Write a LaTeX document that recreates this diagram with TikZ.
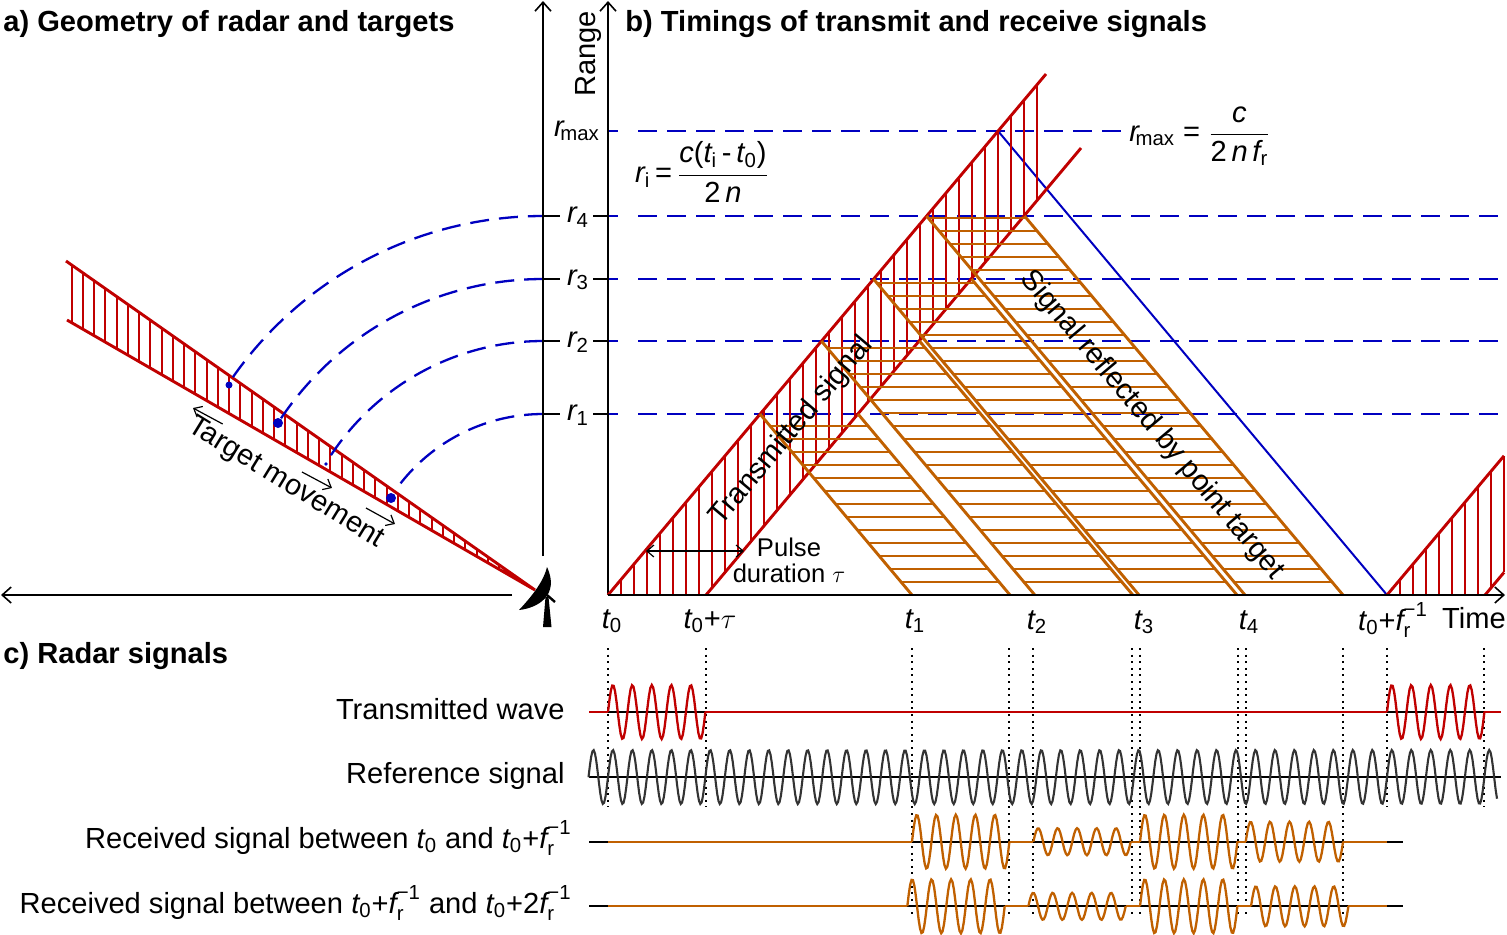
\documentclass[tikz,border=0pt]{standalone}
\usepackage{amsmath}
\usepackage{fontspec}
\setmainfont{Liberation Sans}
\usetikzlibrary{arrows.meta}

\definecolor{radarred}{HTML}{C00000}
\definecolor{echoorange}{HTML}{C06000}
\definecolor{rangeblue}{HTML}{0000C0}
\definecolor{refgray}{HTML}{333333}

\newcommand{\vi}[1]{\text{\itshape #1}}
\newcommand{\vr}[1]{\text{#1}}
\newcommand{\tzero}{\vi{t}_{\vr{0}}}
\newcommand{\frinv}{\vi{f}_{\vr{r}}^{\vr{−1}}}

\newcommand{\pulsewave}[4]{\draw[#4,line width=1.15pt] plot[samples=70,domain=#1:#1+97.4] (\x,{#2-#3*sin(18.4852*(\x-#1))});}

\tikzset{
    lab/.style={inner sep=0pt,font=\fontsize{14.55}{13}\selectfont},
    ttl/.style={inner sep=0pt,anchor=west,font=\fontsize{14.55}{17}\selectfont\bfseries},
    axisline/.style={black,line width=0.8pt,-{Straight Barb[length=4.5pt,width=8pt]}},
    rangedash/.style={rangeblue,line width=1.15pt,dash pattern=on 9.5pt off 5pt},
    timedot/.style={black,line width=1pt,dash pattern=on 1pt off 2.3pt},
    txband/.style={radarred,line width=1.45pt},
    txhatch/.style={radarred,line width=1.05pt},
    echoband/.style={echoorange,line width=1.45pt},
    echohatch/.style={echoorange,line width=1.15pt}
}

\begin{document}
\begin{tikzpicture}[x=0.5pt,y=-0.5pt] %coordinates are pixels of the figure
    \useasboundingbox (0,0) rectangle (1507,934);

    \coordinate (radar) at (543,595);
    \coordinate (O) at (608,595);

    \node[ttl] (titleA) at (3,24) {a) Geometry of radar and targets};
    \node[ttl] (titleB) at (625,24) {b) Timings of transmit and receive signals};
    \node[ttl] (titleC) at (3,656) {c) Radar signals};

    % range lines
    \foreach \ypos in {216,279,341,414}{
        \draw[rangedash] (638,\ypos) -- (1505,\ypos);
        \draw[rangeblue,line width=1.15pt] (608,\ypos) -- (618,\ypos);
        \draw[black,line width=0.8pt] (543,\ypos) -- (560,\ypos);
        \draw[black,line width=0.8pt] (593,\ypos) -- (608,\ypos);
    }
    \draw[rangedash] (638,131) -- (1122,131);
    \draw[rangeblue,line width=1.15pt] (608,131) -- (618,131);
    \draw[rangeblue,line width=1pt] (998,131) -- (1387,595);

    % a) target sector
    \coordinate (sectorA) at (66,261);
    \coordinate (sectorB) at (67,320);
    \coordinate (sectorC) at (535,590);
    \foreach \k in {0,...,39}{
        \pgfmathsetmacro{\xpos}{71.6+11.25*\k}
        \pgfmathsetmacro{\ytop}{261+0.7015*(\xpos-66)}
        \pgfmathsetmacro{\ybot}{320+0.577*(\xpos-67)}
        \draw[txhatch] (\xpos,\ytop) -- (\xpos,\ybot);
    }
    \draw[txband] (sectorA) -- (sectorC) -- (sectorB);

    % arcs from targets to range axis
    \draw[rangedash] (radar) ++(215.1:379) arc[start angle=215.1,end angle=270,radius=379];
    \draw[rangedash] (radar) ++(214:316) arc[start angle=214,end angle=270,radius=316];
    \draw[rangedash] (radar) ++(213.4:254) arc[start angle=213.4,end angle=270,radius=254];
    \draw[rangedash] (radar) ++(218.1:181) arc[start angle=218.1,end angle=270,radius=181];

    \fill[rangeblue] (229,385) circle (3.5);
    \fill[rangeblue] (278,423) circle (5);
    \fill[rangeblue] (326,464) circle (1.8);
    \fill[rangeblue] (391,498) circle (5);

    \node[lab,rotate=-31.5] (targetmove) at (285.5,483) {Target movement};
    \draw[black,line width=0.6pt,-{Straight Barb[length=3.5pt,width=6pt]}] (222.7,424) -- (193,408);
    \draw[black,line width=0.6pt,-{Straight Barb[length=3.5pt,width=6pt]}] (302,472) -- (332,488);
    \draw[black,line width=0.6pt,-{Straight Barb[length=3.5pt,width=6pt]}] (366,508) -- (395,524);

    % dish
    \fill[black] (547,567) .. controls (544,580) and (534,594) .. (519,610)
        .. controls (538,608) and (560,595) .. cycle;
    \fill[black] (545.5,597) -- (543,627) -- (551.5,627) -- (548.5,597) -- cycle;
    \draw[black,line width=1.2pt] (547,595) -- (555,602);

    % axes
    \draw[axisline] (512,595) -- (1,595);
    \draw[axisline] (543,556) -- (543,1);
    \draw[axisline] (O) -- (608,1);

    % transmitted signal
    \foreach \k in {1,...,33}{
        \pgfmathsetmacro{\xpos}{608+13*\k}
        \pgfmathsetmacro{\ytop}{595-1.19*(\xpos-608)}
        \pgfmathsetmacro{\ybot}{min(595,595-1.19*(\xpos-706))}
        \draw[txhatch] (\xpos,\ytop) -- (\xpos,\ybot);
    }
    \draw[txband] (O) -- (1046,74);
    \draw[txband] (706,595) -- (1081,148);
    \foreach \k in {1,...,9}{
        \pgfmathsetmacro{\xpos}{1387+13*\k}
        \pgfmathsetmacro{\ytop}{595-1.19*(\xpos-1387)}
        \pgfmathsetmacro{\ybot}{min(595,595-1.19*(\xpos-1485))}
        \draw[txhatch] (\xpos,\ytop) -- (\xpos,\ybot);
    }
    \draw[txband] (1387,595) -- (1504,455.8);
    \draw[txband] (1485,595) -- (1504,572.4);

    % reflected signals
    \foreach \rtop/\xtop/\xend in {414/760/912,341/821.4/1034.8,279/873.5/1139,216/926.5/1245}{
        \draw[echoband] (\xtop,\rtop) -- (\xend,595);
        \draw[echoband] ({\xtop+98},\rtop) -- ({\xend+98},595);
        \foreach \k in {1,...,29}{
            \pgfmathsetmacro{\ypos}{595-13*\k}
            \ifdim\ypos pt>\rtop pt
                \pgfmathsetmacro{\xpos}{\xtop+(\ypos-\rtop)/1.19}
                \draw[echohatch] (\xpos,\ypos) -- ({\xpos+98},\ypos);
            \fi
        }
    }
    \draw[black,line width=1pt] (O) -- (1400,595);
    \draw[axisline] (1400,595) -- (1505,595);

    \draw[black,line width=0.6pt,{Straight Barb[length=3.5pt,width=6pt]}-{Straight Barb[length=3.5pt,width=6pt]}] (646,551) -- (744,551);
    \node[lab,align=center,font=\fontsize{12.8}{13}\selectfont] (pulse) at (789,560) {Pulse\\duration $\tau$};
    \node[lab,rotate=50] (txlabel) at (792,431) {Transmitted signal};
    \node[lab,rotate=-50] (rxlabel) at (1152,425) {Signal reflected by point target};
    \node[lab,rotate=90] (rangelabel) at (588,54) {Range};

    \node[lab] (rmax) at (577,131) {$\vi{r}_{\!\vr{max}}$};
    \node[lab] (r4) at (578,217) {$\vi{r}_{\vr{4}}$};
    \node[lab] (r3) at (578,280) {$\vi{r}_{\vr{3}}$};
    \node[lab] (r2) at (578,342) {$\vi{r}_{\vr{2}}$};
    \node[lab] (r1) at (578,415) {$\vi{r}_{\vr{1}}$};

    \node[lab] (eqri) at (702,172) {$\vi{r}_{\vr{i}}\,\vr{=}\,\displaystyle\frac{\vi{c}\vr{(}\vi{t}_{\vr{i}}\,\vr{-}\,\tzero\vr{)}}{\vr{2}\,\vi{n}}$};
    \node[lab] (eqrmax) at (1200,136) {$\vi{r}_{\!\vr{max}}\;\vr{=}\;\displaystyle\frac{\vi{c}}{\vr{2}\,\vi{n}\,\vi{f}_{\vr{r}}}$};

    \node[lab] (t0) at (612,621) {$\tzero$};
    \node[lab] (t0tau) at (710,621) {$\tzero\vr{+}\tau$};
    \node[lab] (t1) at (915,621) {$\vi{t}_{\vr{1}}$};
    \node[lab] (t2) at (1037,622) {$\vi{t}_{\vr{2}}$};
    \node[lab] (t3) at (1144,622) {$\vi{t}_{\vr{3}}$};
    \node[lab] (t4) at (1249,622) {$\vi{t}_{\vr{4}}$};
    \node[lab] (t0fr) at (1393,620) {$\tzero\vr{+}\frinv$};
    \node[lab] (timelabel) at (1474,618) {Time};

    % c) signals
    \foreach \xpos/\yend in {608/807,706/807,912/918,1009/918,1033/918,1131.5/918,1140/918,1238/918,1246/918,1343/918,1387/807,1484/807}{
        \draw[timedot] (\xpos,648) -- (\xpos,\yend);
    }

    \node[lab,anchor=east] (rowA) at (565,709) {Transmitted wave};
    \node[lab,anchor=east] (rowB) at (565,776) {Reference signal};
    \node[lab,anchor=east] (rowC) at (572,838) {Received signal between $\tzero$ and $\tzero\vr{+}\frinv$};
    \node[lab,anchor=east] (rowD) at (572,903) {Received signal between $\tzero\vr{+}\frinv$ and $\tzero\vr{+2}\frinv$};

    \draw[black,line width=1pt] (589,712) -- (1501,712);
    \draw[radarred,line width=1.3pt] (589,712) -- (608,712);
    \draw[radarred,line width=1.3pt] (705.4,712) -- (1387,712);
    \draw[radarred,line width=1.3pt] (1484.4,712) -- (1501,712);
    \pulsewave{608}{712}{27}{radarred}
    \pulsewave{1387}{712}{27}{radarred}

    \draw[black,line width=1pt] (589,777) -- (1501,777);
    \draw[refgray,line width=1.05pt] plot[samples=700,domain=588.5:1497] (\x,{777-27*sin(18.4852*(\x-1016.975))});

    \draw[black,line width=1pt] (589,841.7) -- (1403,841.7);
    \foreach \xa/\xb in {608/912,1009.4/1033.3,1130.7/1140,1237.4/1245.7,1343.1/1387}{
        \draw[echoorange,line width=1.1pt] (\xa,841.7) -- (\xb,841.7);
    }
    \pulsewave{912}{841.7}{27}{echoorange}
    \pulsewave{1033.3}{841.7}{13.5}{echoorange}
    \pulsewave{1140}{841.7}{27}{echoorange}
    \pulsewave{1245.7}{841.7}{20}{echoorange}

    \draw[black,line width=1pt] (589,906.3) -- (1403,906.3);
    \foreach \xa/\xb in {608/907.3,1004.7/1028.3,1125.7/1140,1237.4/1251,1348.4/1387}{
        \draw[echoorange,line width=1.1pt] (\xa,906.3) -- (\xb,906.3);
    }
    \pulsewave{907.3}{906.3}{27}{echoorange}
    \pulsewave{1028.3}{906.3}{13.5}{echoorange}
    \pulsewave{1140}{906.3}{27}{echoorange}
    \pulsewave{1251}{906.3}{20}{echoorange}
\end{tikzpicture}
\end{document}
